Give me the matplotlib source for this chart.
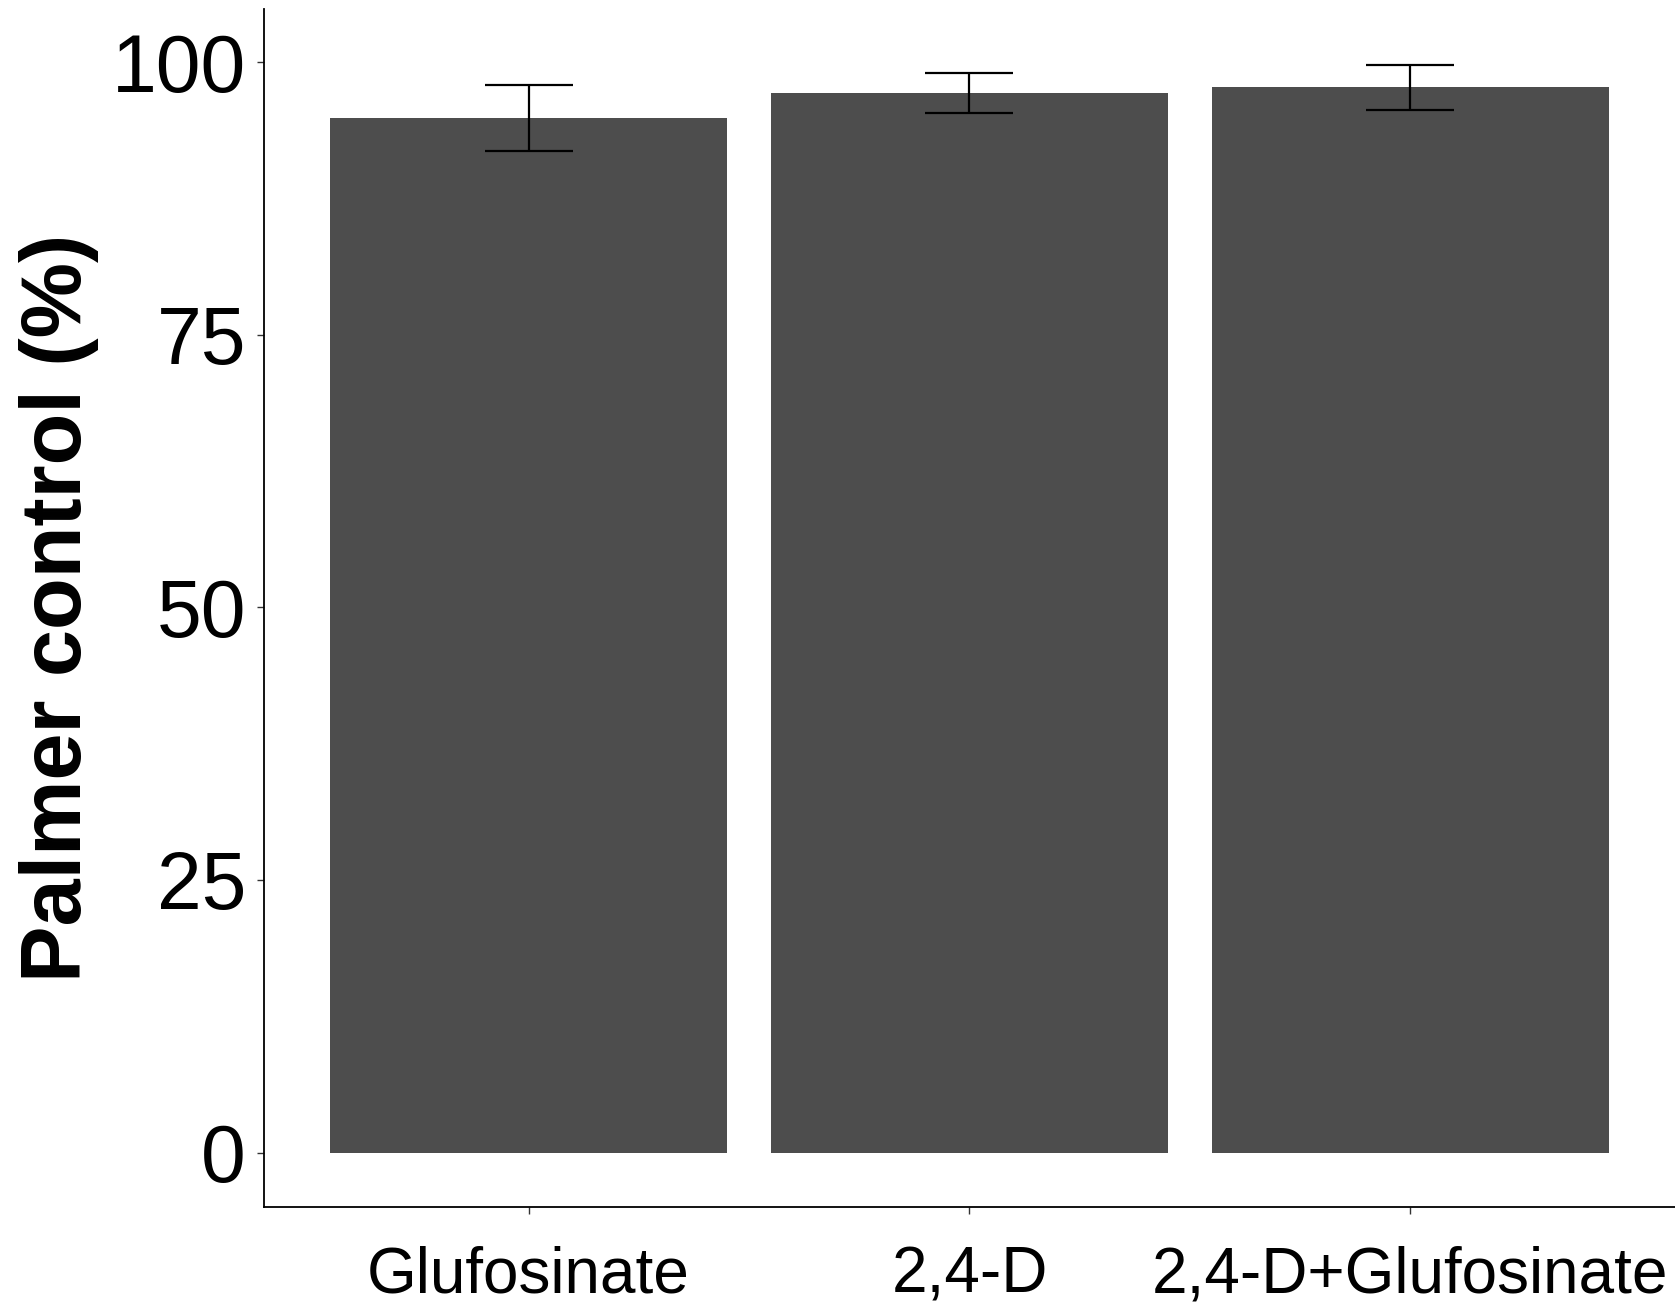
import matplotlib.pyplot as plt
import numpy as np

# datos
tratamientos = ['Glufosinate', '2,4-D', '2,4-D+Glufosinate']
control = [94.9, 97.2, 97.7]
error = [3.0, 1.8, 2.1]

plt.rcParams['font.family'] = ['Liberation Sans', 'DejaVu Sans']

fig = plt.figure(figsize=(16.75, 13.06), dpi=100)
ax = fig.add_axes([0.1576, 0.0758, 0.8424, 0.9173])

x = np.arange(1, len(tratamientos) + 1)
ax.bar(x, control, width=0.9, color='#4D4D4D', zorder=1)
ax.errorbar(x, control, yerr=error, fmt='none', ecolor='black',
            elinewidth=1.6, capsize=44 * 0.72, capthick=1.6, zorder=2)

ax.set_xlim(0.4, 3.6)
ax.set_ylim(-5.0, 104.9)
ax.set_xticks(x)
ax.set_xticklabels(tratamientos, fontsize=46)
ax.set_yticks([0, 25, 50, 75, 100])
ax.set_yticklabels(['0', '25', '50', '75', '100'], fontsize=58)
ax.tick_params(axis='x', length=5, width=1, color='#333333', pad=23)
ax.tick_params(axis='y', length=5, width=1, color='#333333', pad=8)

ax.set_ylabel('Palmer control (%)', fontsize=61, fontweight='bold', labelpad=9)

for lado in ['top', 'right']:
    ax.spines[lado].set_visible(False)
for lado in ['left', 'bottom']:
    ax.spines[lado].set_linewidth(1.3)
    ax.spines[lado].set_color('black')

fig.savefig('out.png', dpi=100)
